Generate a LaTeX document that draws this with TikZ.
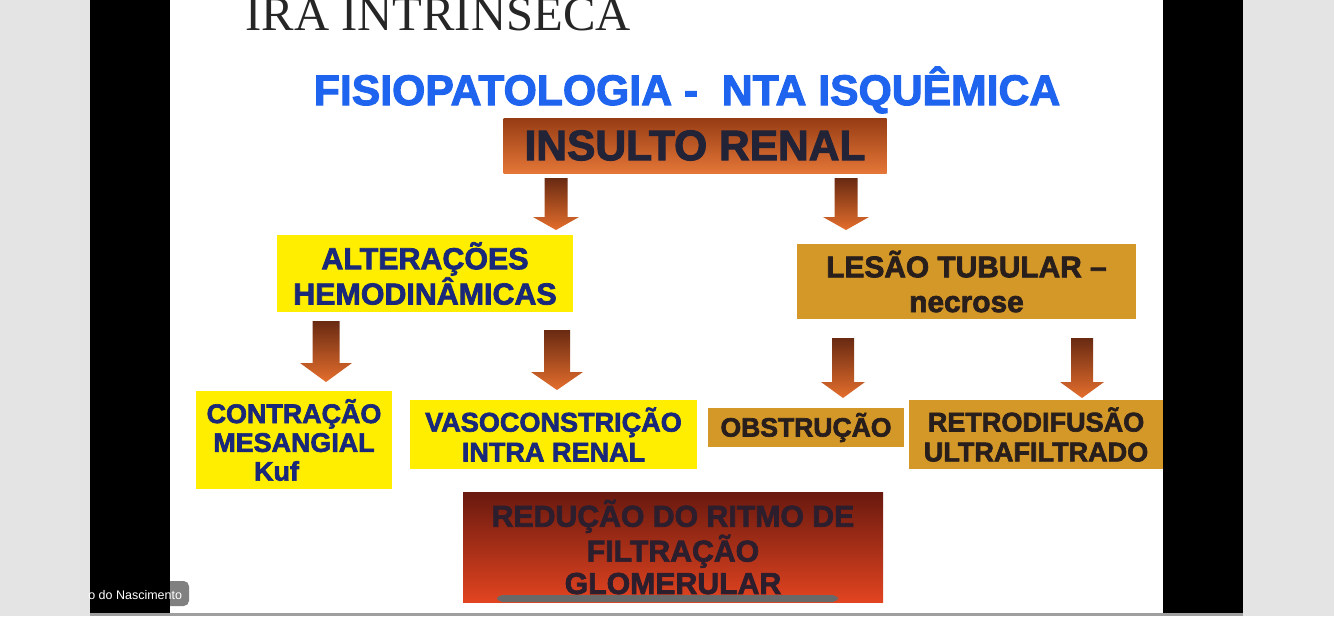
\documentclass[tikz,border=0pt]{standalone}
\usepackage{fontspec}
\setmainfont{Liberation Serif}
\newfontfamily\heavyfont[FakeBold=2.4]{Liberation Sans Bold}
\newfontfamily\tagfont{Liberation Sans}
\usetikzlibrary{positioning, calc}
\definecolor{framegray}{RGB}{228,228,228}
\definecolor{scrollgray}{RGB}{105,105,105}
\definecolor{taggray}{RGB}{128,128,128}
\definecolor{titleblue}{RGB}{30,100,238}
\definecolor{boxyellow}{RGB}{255,238,0}
\definecolor{navytext}{RGB}{25,40,120}
\definecolor{boxgold}{RGB}{212,152,40}
\definecolor{darktext}{RGB}{40,30,28}
\definecolor{insdark}{RGB}{150,60,20}
\definecolor{insmid}{RGB}{212,98,38}
\definecolor{inslight}{RGB}{228,118,55}
\definecolor{insulttext}{RGB}{35,35,55}
\definecolor{reddark}{RGB}{105,25,15}
\definecolor{redlight}{RGB}{226,68,32}
\definecolor{reductext}{RGB}{45,30,45}
\definecolor{arrdark}{RGB}{105,42,18}
\definecolor{arrlight}{RGB}{228,110,45}
\tikzset{
  boxsize/.style 2 args={minimum width=#1*0.02cm, minimum height=#2*0.02cm},
  box/.style={rectangle, inner sep=0pt, align=center},
  yellowbox/.style={box, fill=boxyellow, text=navytext},
  goldbox/.style={box, fill=boxgold, text=darktext},
  insultbox/.style={box, top color=insdark, middle color=insmid, bottom color=inslight, text=insulttext},
  reducbox/.style={box, top color=reddark, bottom color=redlight, text=reductext},
  arrowfill/.style={top color=arrdark, bottom color=arrlight, draw=none}
}
% block arrow: top point, tip point, shaft half width, head half width, head length
\newcommand{\blockarrow}[5]{%
  \shade[arrowfill] ($(#1)+(-#3,0)$) -- ($(#1)+(#3,0)$) -- ($(#2)+(#3,-#5)$)
    -- ($(#2)+(#4,-#5)$) -- (#2) -- ($(#2)+(-#4,-#5)$) -- ($(#2)+(-#3,-#5)$) -- cycle;}

\begin{document}
\begin{tikzpicture}[x=0.02cm, y=-0.02cm]
  \useasboundingbox (0,0) rectangle (1334,616);
  % screen frame
  \fill[framegray] (0,0) rectangle (90,616);
  \fill[white] (170,0) rectangle (1163,616);
  \fill[taggray, rounded corners=3pt] (120,581) rectangle (189,606);
  \fill[black] (90,0) rectangle (170,616);
  \fill[black] (1163,0) rectangle (1243,616);
  \fill[framegray] (1243,0) rectangle (1334,616);
  \fill[gray!75] (90,613) rectangle (1243,616);

  % titles
  \node[anchor=base west, inner sep=0pt, font=\fontsize{27.7}{30}\selectfont, text=black!85]
    (ira) at (245,30) {IRA INTRINSECA};
  \node[anchor=base, inner sep=0pt, font=\heavyfont\fontsize{24.3}{26}\selectfont, text=titleblue]
    (title) at (687,105) {FISIOPATOLOGIA -\ \ NTA ISQUÊMICA};

  % boxes
  \node[insultbox, boxsize={383}{55}, font=\heavyfont\fontsize{24.2}{26}\selectfont]
    (insult) at (695,145.5) {INSULTO RENAL};
  \node[yellowbox, boxsize={296}{77}, font=\heavyfont\fontsize{17.3}{18.7}\selectfont]
    (alter) at (425,273.5) {ALTERAÇÕES\\HEMODINÂMICAS};
  \node[goldbox, boxsize={339}{75}, font=\heavyfont\fontsize{17}{19.8}\selectfont]
    (lesao) at (966.5,281.5) {LESÃO TUBULAR –\\necrose};
  \node[yellowbox, boxsize={196}{98}, font=\heavyfont\fontsize{15.3}{16.4}\selectfont]
    (contra) at (294,440) {CONTRAÇÃO\\MESANGIAL\\\hspace*{-1.3em}Kuf};
  \node[yellowbox, boxsize={287}{69}, font=\heavyfont\fontsize{15.4}{17}\selectfont]
    (vaso) at (553.5,434.5) {VASOCONSTRIÇÃO\\INTRA RENAL};
  \node[goldbox, boxsize={196}{39}, font=\heavyfont\fontsize{15.1}{17}\selectfont]
    (obstr) at (806,427.5) {OBSTRUÇÃO};
  \node[goldbox, boxsize={254}{69}, font=\heavyfont\fontsize{15.4}{17}\selectfont]
    (retro) at (1036,434.5) {RETRODIFUSÃO\\ULTRAFILTRADO};
  \node[reducbox, boxsize={420}{110}, font=\heavyfont\fontsize{17.2}{18.4}\selectfont]
    (reduc) at (673,547) {REDUÇÃO DO RITMO DE\\FILTRAÇÃO\\GLOMERULAR};

  % arrows
  \coordinate (a1t) at (556,178);  \coordinate (a1b) at (556,230);
  \coordinate (a2t) at (846,178);  \coordinate (a2b) at (846,230);
  \coordinate (a3t) at (326,321);  \coordinate (a3b) at (326,382);
  \coordinate (a4t) at (557,330);  \coordinate (a4b) at (557,390);
  \coordinate (a5t) at (843,338);  \coordinate (a5b) at (843,398);
  \coordinate (a6t) at (1082,338); \coordinate (a6b) at (1082,398);
  \blockarrow{a1t}{a1b}{11.5}{23}{13}
  \blockarrow{a2t}{a2b}{11.5}{23}{13}
  \blockarrow{a3t}{a3b}{13.5}{26}{19}
  \blockarrow{a4t}{a4b}{13}{26}{18}
  \blockarrow{a5t}{a5b}{11}{22}{16}
  \blockarrow{a6t}{a6b}{11}{22}{16}

  % scroll bar and name tag
  \fill[scrollgray, rounded corners=3pt] (497,595) rectangle (838,602);
  \node[anchor=base west, inner sep=0pt, font=\tagfont\fontsize{7.1}{8}\selectfont, text=white]
    (tag) at (88,599) {o do Nascimento};
\end{tikzpicture}
\end{document}
